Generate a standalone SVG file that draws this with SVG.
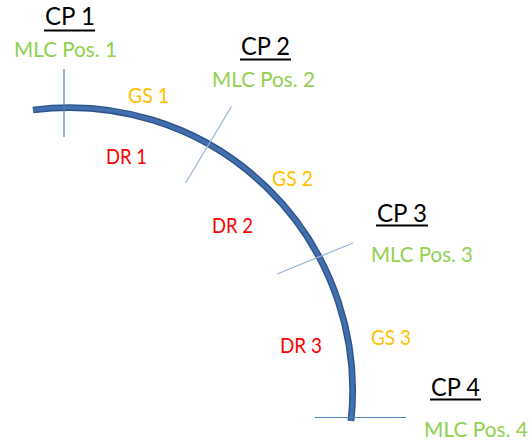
<svg xmlns="http://www.w3.org/2000/svg" width="529" height="442" viewBox="0 0 529 442">
  <style>
    text { font-family: Lato, "Liberation Sans", sans-serif; }
    .cp { font-size: 25.5px; fill: #000; }
    .ul { stroke: #000; stroke-width: 1.8; }
    .mlc { font-size: 21px; fill: #92d050; }
    .gs { font-size: 21px; fill: #ffc000; }
    .dr { font-size: 21px; fill: #ff0000; }
    .tick { stroke: #4f81bd; stroke-width: 1.2; fill: none; }
    .tick.light { stroke: #95b3d7; }
  </style>
  <rect width="529" height="442" fill="#ffffff"/>

  <!-- gantry arc -->
  <g id="arc">
    <path d="M33,110 A283,283 0 0 1 351,421" fill="none" stroke="#2d5288" stroke-width="6.8"/>
    <path d="M33,110 A283,283 0 0 1 351,421" fill="none" stroke="#4170ae" stroke-width="4"/>
  </g>

  <!-- control point markers across the arc -->
  <g id="connectors">
    <line class="tick" x1="64" y1="69" x2="64" y2="137"/>
    <line class="tick light" x1="231.5" y1="106.5" x2="185.5" y2="183"/>
    <line class="tick light" x1="353" y1="243" x2="277" y2="274"/>
    <line class="tick" x1="315" y1="417.5" x2="406" y2="417.5"/>
  </g>

  <g id="cp1">
    <text class="cp" x="45" y="25" textLength="50" lengthAdjust="spacingAndGlyphs">CP 1</text>
    <line class="ul" x1="44" y1="30.5" x2="95" y2="30.5"/>
    <text class="mlc" x="14" y="57" textLength="103" lengthAdjust="spacingAndGlyphs">MLC Pos. 1</text>
  </g>
  <g id="cp2">
    <text class="cp" x="241" y="55" textLength="49" lengthAdjust="spacingAndGlyphs">CP 2</text>
    <line class="ul" x1="240" y1="59.5" x2="291" y2="59.5"/>
    <text class="mlc" x="212" y="87" textLength="103" lengthAdjust="spacingAndGlyphs">MLC Pos. 2</text>
  </g>
  <g id="cp3">
    <text class="cp" x="377" y="222" textLength="50" lengthAdjust="spacingAndGlyphs">CP 3</text>
    <line class="ul" x1="376" y1="225.5" x2="428" y2="225.5"/>
    <text class="mlc" x="371" y="262" textLength="102" lengthAdjust="spacingAndGlyphs">MLC Pos. 3</text>
  </g>
  <g id="cp4">
    <text class="cp" x="431" y="396" textLength="49" lengthAdjust="spacingAndGlyphs">CP 4</text>
    <line class="ul" x1="430" y1="399.5" x2="481" y2="399.5"/>
    <text class="mlc" x="424" y="437" textLength="104" lengthAdjust="spacingAndGlyphs">MLC Pos. 4</text>
  </g>

  <g id="gs1"><text class="gs" x="128" y="103" textLength="41" lengthAdjust="spacingAndGlyphs">GS 1</text></g>
  <g id="gs2"><text class="gs" x="272" y="186" textLength="41" lengthAdjust="spacingAndGlyphs">GS 2</text></g>
  <g id="gs3"><text class="gs" x="371" y="345" textLength="40" lengthAdjust="spacingAndGlyphs">GS 3</text></g>

  <g id="dr1"><text class="dr" x="106" y="164" textLength="41" lengthAdjust="spacingAndGlyphs">DR 1</text></g>
  <g id="dr2"><text class="dr" x="212" y="233" textLength="41" lengthAdjust="spacingAndGlyphs">DR 2</text></g>
  <g id="dr3"><text class="dr" x="280" y="353" textLength="42" lengthAdjust="spacingAndGlyphs">DR 3</text></g>
</svg>
